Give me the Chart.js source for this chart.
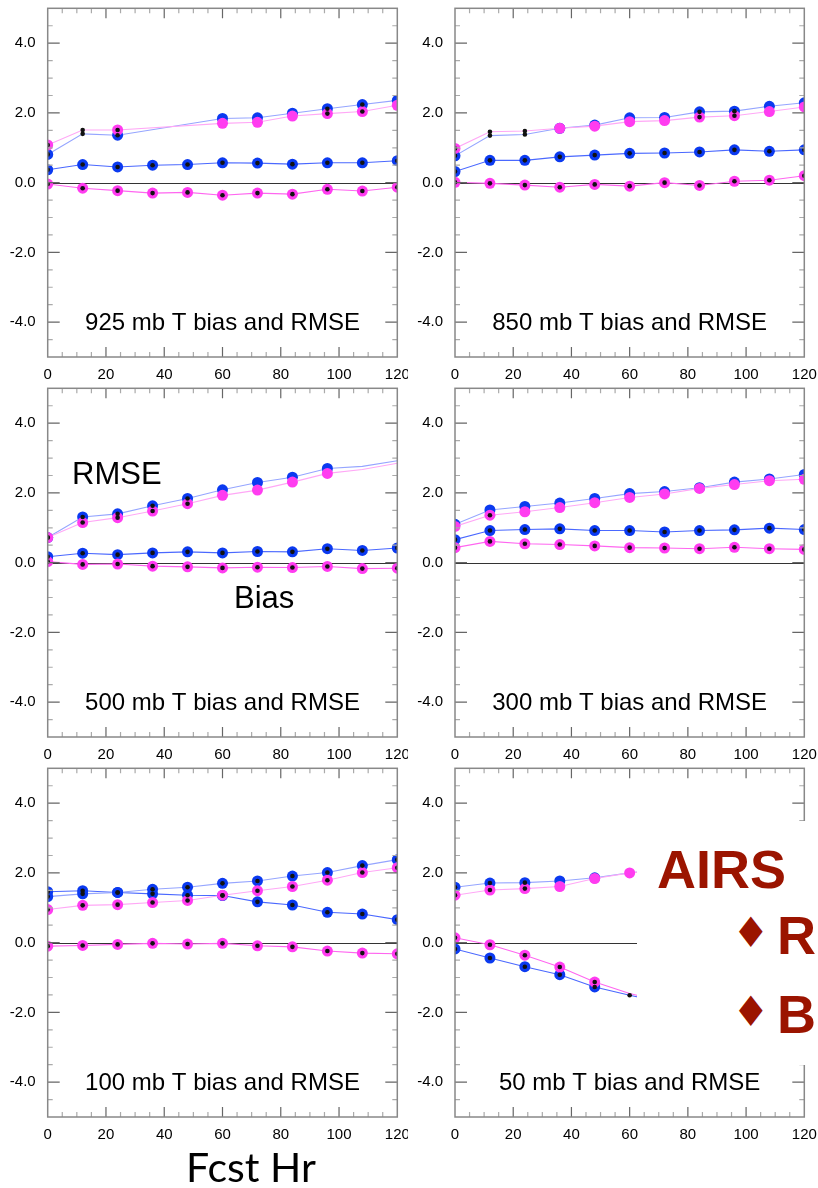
<!DOCTYPE html>
<html>
<head>
<meta charset="utf-8">
<script src="https://cdn.jsdelivr.net/npm/chart.js@4.4.1/dist/chart.umd.min.js"></script>
<style>
  html, body { margin:0; padding:0; background:#fff; }
  body { width:818px; height:1188px; position:relative; overflow:hidden; }
  .pc { position:absolute; }
  .txt { position:absolute; white-space:nowrap; line-height:1; font-family:"Liberation Sans", Arial, sans-serif; color:#000; }
  #airsBox { position:absolute; left:637px; top:821px; width:181px; height:244px; background:#fff; overflow:hidden; }
  .airs { position:absolute; white-space:nowrap; line-height:1; font-family:"Liberation Sans", Arial, sans-serif; font-weight:bold; color:#9b1400; font-size:54px; }
  .dia { position:absolute; white-space:nowrap; line-height:1; font-family:"DejaVu Sans", sans-serif; color:#9b1400; font-size:42px; }
</style>
</head>
<body>
<script>
// ---------- data ----------
const hours = [0, 12, 24, 36, 48, 60, 72, 84, 96, 108, 120];
const xTickValues = [0, 20, 40, 60, 80, 100, 120];
const yTickValues = [-4, -2, 0, 2, 4];
const panelTitles = ["925 mb T bias and RMSE", "850 mb T bias and RMSE", "500 mb T bias and RMSE",
                     "300 mb T bias and RMSE", "100 mb T bias and RMSE", "50 mb T bias and RMSE"];
const xAxisTitle = "Fcst Hr";

const rmseBlue925 = [0.81, 1.40, 1.36, null, null, 1.84, 1.86, 1.99, 2.12, 2.24, 2.36];
const rmseMag925  = [1.08, 1.51, 1.51, null, null, 1.70, 1.73, 1.91, 1.98, 2.04, 2.22];
const biasBlue925 = [0.37, 0.52, 0.45, 0.50, 0.52, 0.57, 0.56, 0.53, 0.57, 0.57, 0.63];
const biasMag925  = [-0.04, -0.16, -0.23, -0.30, -0.28, -0.36, -0.30, -0.33, -0.19, -0.24, -0.13];

const rmseBlue850 = [0.77, 1.35, 1.38, 1.56, 1.65, 1.86, 1.87, 2.03, 2.05, 2.19, 2.29];
const rmseMag850  = [0.98, 1.46, 1.48, 1.56, 1.62, 1.75, 1.78, 1.88, 1.92, 2.04, 2.17];
const biasBlue850 = [0.32, 0.64, 0.64, 0.74, 0.79, 0.84, 0.85, 0.88, 0.94, 0.90, 0.94];
const biasMag850  = [0.01, -0.02, -0.07, -0.13, -0.05, -0.10, 0.00, -0.08, 0.04, 0.07, 0.20];

const rmseBlue500 = [0.72, 1.31, 1.40, 1.63, 1.84, 2.09, 2.30, 2.45, 2.70, 2.76, 2.92];
const rmseMag500  = [0.72, 1.15, 1.29, 1.48, 1.69, 1.93, 2.08, 2.31, 2.56, 2.67, 2.85];
const biasBlue500 = [0.17, 0.27, 0.23, 0.28, 0.31, 0.28, 0.32, 0.31, 0.40, 0.35, 0.42];
const biasMag500  = [0.03, -0.05, -0.04, -0.10, -0.12, -0.15, -0.13, -0.14, -0.11, -0.17, -0.16];

const rmseBlue300 = [1.10, 1.51, 1.61, 1.71, 1.84, 1.98, 2.04, 2.15, 2.31, 2.40, 2.53];
const rmseMag300  = [1.04, 1.36, 1.46, 1.58, 1.72, 1.87, 1.97, 2.13, 2.24, 2.35, 2.39];
const biasBlue300 = [0.66, 0.92, 0.95, 0.97, 0.92, 0.92, 0.88, 0.92, 0.94, 0.99, 0.95];
const biasMag300  = [0.43, 0.61, 0.54, 0.52, 0.48, 0.43, 0.42, 0.40, 0.44, 0.40, 0.38];

const rmseBlue100 = [1.32, 1.40, 1.44, 1.53, 1.59, 1.70, 1.77, 1.91, 2.01, 2.21, 2.38];
const rmseMag100  = [0.95, 1.07, 1.09, 1.15, 1.21, 1.36, 1.49, 1.61, 1.79, 2.01, 2.15];
const biasBlue100 = [1.46, 1.49, 1.44, 1.40, 1.36, 1.35, 1.17, 1.08, 0.87, 0.82, 0.66];
const biasMag100  = [-0.10, -0.08, -0.05, -0.02, -0.04, -0.02, -0.09, -0.12, -0.24, -0.30, -0.32];

const rmseBlue50 = [1.59, 1.71, 1.72, 1.77, 1.86, 2.00, 2.10, null, null, null, null];
const rmseMag50  = [1.36, 1.51, 1.55, 1.61, 1.84, 2.00, 2.08, null, null, null, null];
const biasBlue50 = [-0.18, -0.44, -0.69, -0.92, -1.27, -1.51, -1.72, null, null, null, null];
const biasMag50  = [0.14, -0.06, -0.36, -0.70, -1.13, -1.46, -1.70, null, null, null, null];

// ---------- styles ----------
const seriesStyle = [
  { line: "#95a5ff", marker: "#0b3af0", order: 2 },  // blue RMSE
  { line: "#ffa8f6", marker: "#ff3cf0", order: 1 },  // magenta RMSE
  { line: "#4a68ff", marker: "#0b3af0", order: 2 },  // blue bias
  { line: "#ff66f0", marker: "#ff3cf0", order: 1 }   // magenta bias
];
const ALL = hours.slice();
const panels = [
  { title: panelTitles[0], left: 0,   top: 0,   w: 408, padR: 10.7, yw: 47.7,
    series: [rmseBlue925, rmseMag925, biasBlue925, biasMag925],
    hide: {0:[12], 1:[12]}, nodot: {0:[60,72,84,120], 1:[60,72,84,120]} },
  { title: panelTitles[1], left: 408, top: 0,   w: 410, padR: 13.7, yw: 47,
    series: [rmseBlue850, rmseMag850, biasBlue850, biasMag850],
    hide: {0:[12,24], 1:[12,24]}, nodot: {0:[36,48,60,72,108,120], 1:[36,48,60,72,108,120]} },
  { title: panelTitles[2], left: 0,   top: 380, w: 408, padR: 10.7, yw: 47.7,
    series: [rmseBlue500, rmseMag500, biasBlue500, biasMag500],
    hide: {0:[108,120], 1:[108,120]}, nodot: {0:[60,72,84,96,108,120], 1:[60,72,84,96,108,120]} },
  { title: panelTitles[3], left: 408, top: 380, w: 410, padR: 13.7, yw: 47,
    series: [rmseBlue300, rmseMag300, biasBlue300, biasMag300],
    hide: {}, nodot: {0:ALL, 1:[0,24,36,48,60,72,84,96,108,120]} },
  { title: panelTitles[4], left: 0,   top: 760, w: 408, padR: 10.7, yw: 47.7,
    series: [rmseBlue100, rmseMag100, biasBlue100, biasMag100],
    hide: {}, nodot: {} },
  { title: panelTitles[5], left: 408, top: 760, w: 410, padR: 13.7, yw: 47,
    series: [rmseBlue50, rmseMag50, biasBlue50, biasMag50],
    hide: {0:[60,72], 1:[72], 2:[60,72], 3:[60,72]}, nodot: {0:[36,48,60,72], 1:[36,48,60,72], 2:[72], 3:[60,72]} }
];

const FONT = '"Liberation Sans", Arial, sans-serif';

const framePlugin = {
  id: 'frame',
  beforeDatasetsDraw(chart) {
    const { ctx, chartArea: a, scales: { y } } = chart;
    const y0 = Math.round(y.getPixelForValue(0)) + 0.5;
    ctx.save();
    ctx.strokeStyle = '#333';
    ctx.lineWidth = 1;
    ctx.beginPath(); ctx.moveTo(a.left, y0); ctx.lineTo(a.right, y0); ctx.stroke();
    ctx.restore();
  },
  afterDatasetsDraw(chart) {
    const { ctx, chartArea: a, scales: { x, y } } = chart;
    ctx.save();
    for (let v = 5; v < 120; v += 5) {
      const px = x.getPixelForValue(v);
      const major = v % 20 === 0;
      const len = major ? 10 : 5;
      ctx.strokeStyle = major ? '#666' : '#aaa';
      ctx.lineWidth = 1.2;
      ctx.beginPath();
      ctx.moveTo(px, a.top); ctx.lineTo(px, a.top + len);
      ctx.moveTo(px, a.bottom); ctx.lineTo(px, a.bottom - len);
      ctx.stroke();
    }
    for (let v = -4.5; v < 5; v += 0.5) {
      const py = y.getPixelForValue(v);
      const major = yTickValues.includes(v);
      const len = major ? 12 : 5;
      ctx.strokeStyle = major ? '#666' : '#aaa';
      ctx.lineWidth = 1.2;
      ctx.beginPath();
      ctx.moveTo(a.left, py); ctx.lineTo(a.left + len, py);
      ctx.moveTo(a.right, py); ctx.lineTo(a.right - len, py);
      ctx.stroke();
    }
    ctx.strokeStyle = '#888';
    ctx.lineWidth = 1.5;
    ctx.strokeRect(a.left, a.top, a.right - a.left, a.bottom - a.top);
    ctx.fillStyle = '#000';
    ctx.font = '24px ' + FONT;
    ctx.textAlign = 'center';
    ctx.textBaseline = 'alphabetic';
    ctx.fillText(chart.options.plugins.frame.title, (a.left + a.right) / 2, a.top + 322);
    ctx.restore();
  }
};

function zeroPad(s) { s.paddingTop = 0; s.paddingBottom = 0; s.paddingLeft = 0; s.paddingRight = 0; }

panels.forEach((p, pi) => {
  const wrap = document.createElement('div');
  wrap.className = 'pc';
  wrap.style.left = p.left + 'px';
  wrap.style.top = p.top + 'px';
  wrap.style.width = p.w + 'px';
  wrap.style.height = '392px';
  const cv = document.createElement('canvas');
  cv.width = p.w; cv.height = 392;
  cv.style.width = p.w + 'px'; cv.style.height = '392px';
  wrap.appendChild(cv);
  document.body.appendChild(wrap);

  const datasets = [];
  p.series.forEach((vals, si) => {
    const st = seriesStyle[si];
    const pts = hours.map((h, i) => ({ x: h, y: vals[i] }));
    const hide = p.hide[si] || [];
    const nodot = p.nodot[si] || [];
    datasets.push({
      data: pts,
      borderColor: st.line,
      borderWidth: 1.1,
      spanGaps: true,
      order: st.order,
      pointBackgroundColor: st.marker,
      pointBorderWidth: 0,
      pointRadius: c => (hide.includes(hours[c.dataIndex]) ? 0 : 5.5),
      pointHoverRadius: 0
    });
    datasets.push({
      data: pts,
      showLine: false,
      order: 0,
      pointBackgroundColor: '#111',
      pointBorderWidth: 0,
      pointRadius: c => (nodot.includes(hours[c.dataIndex]) ? 0 : 2.3),
      pointHoverRadius: 0
    });
  });

  new Chart(cv, {
    type: 'line',
    data: { datasets },
    plugins: [framePlugin],
    options: {
      responsive: false,
      animation: false,
      devicePixelRatio: 1,
      layout: { padding: { top: 8.3, right: p.padR, left: 0, bottom: 0 } },
      plugins: { legend: { display: false }, tooltip: { enabled: false }, frame: { title: p.title } },
      scales: {
        x: {
          type: 'linear', min: 0, max: 120,
          grid: { display: false, drawTicks: false },
          border: { display: false },
          afterBuildTicks: s => { s.ticks = xTickValues.map(v => ({ value: v })); },
          afterFit: s => { s.height = 392 - 357; zeroPad(s); },
          ticks: { color: '#000', font: { family: FONT, size: 15 }, padding: 9, maxRotation: 0,
                   callback: v => String(v) }
        },
        y: {
          type: 'linear', min: -5, max: 5,
          grid: { display: false, drawTicks: false },
          border: { display: false },
          afterBuildTicks: s => { s.ticks = yTickValues.map(v => ({ value: v })); },
          afterFit: s => { s.width = p.yw; zeroPad(s); },
          ticks: { color: '#000', font: { family: FONT, size: 15 }, padding: 12,
                   callback: v => Number(v).toFixed(1) }
        }
      }
    }
  });
});

function addText(txt, left, top, size, cls) {
  const d = document.createElement('div');
  d.className = cls || 'txt';
  d.textContent = txt;
  d.style.left = left + 'px';
  d.style.top = top + 'px';
  if (size) d.style.fontSize = size + 'px';
  document.body.appendChild(d);
  return d;
}
addText('RMSE', 72, 484 - 0.8465 * 31, 31);
addText('Bias', 234, 608 - 0.8465 * 31, 31);
const fh = addText(xAxisTitle, 186, 1182 - 0.887 * 41, 41);
fh.style.fontFamily = 'Lato, "Open Sans", sans-serif';

const box = document.createElement('div');
box.id = 'airsBox';
document.body.appendChild(box);
function boxText(txt, left, top, cls) {
  const d = document.createElement('div');
  d.className = cls;
  d.textContent = txt;
  d.style.left = (left - 637) + 'px';
  d.style.top = (top - 821) + 'px';
  box.appendChild(d);
  return d;
}
boxText('AIRS', 657, 888 - 0.8465 * 54, 'airs');
boxText('\u2666', 732, 912, 'dia');
boxText('RMSE', 777, 954 - 0.8465 * 54, 'airs');
boxText('\u2666', 732, 991, 'dia');
boxText('Bias', 777, 1033 - 0.8465 * 54, 'airs');
</script>
</body>
</html>
